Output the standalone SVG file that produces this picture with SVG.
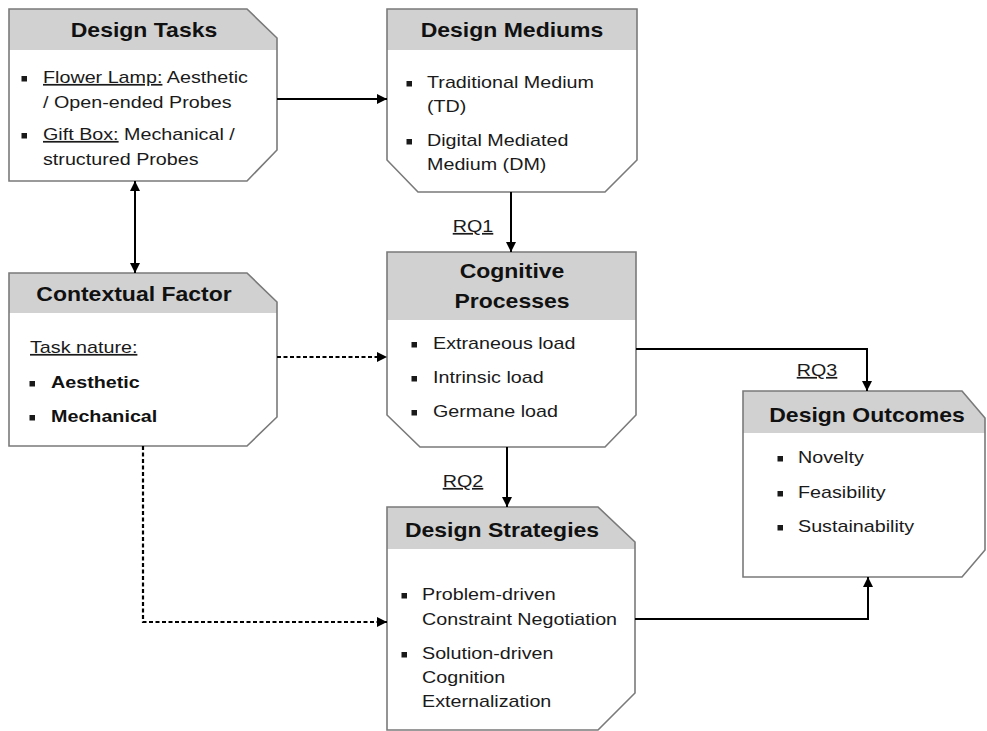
<svg xmlns="http://www.w3.org/2000/svg" width="987" height="731" viewBox="0 0 987 731">
<style>
.bg{fill:#fff}
.hdr{fill:#d1d1d1}
.edge{fill:none;stroke:#7a7a7a;stroke-width:1.6}
.title{font-family:"Liberation Sans",Arial,sans-serif;font-size:20px;font-weight:bold;fill:#111;text-anchor:middle}
.txt{font-family:"Liberation Sans",Arial,sans-serif;font-size:17px;fill:#1a1a1a}
.b{font-weight:bold;fill:#111}
.ctr{text-anchor:middle}
.bul{fill:#1a1a1a}
.conn{fill:none;stroke:#000;stroke-width:2}
.dash{stroke-dasharray:4 2.5;stroke-width:2.2}
</style>
<defs>
<marker id="ah" viewBox="0 0 10 10" refX="10" refY="5" markerWidth="10" markerHeight="10" markerUnits="userSpaceOnUse" orient="auto-start-reverse">
<path d="M0,0 L10,5 L0,10 z" fill="#000"/>
</marker>
</defs>
<rect class="bg" x="0" y="0" width="987" height="731"/>

<g id="design-tasks">
<polygon class="hdr" points="9,9 247,9 277,38 277,50 9,50"/>
<polygon class="edge" points="9,9 247,9 277,38 277,150 247,181 9,181"/>
<text class="title" transform="translate(144,37) scale(1.15,1)">Design Tasks</text>
<rect class="bul" x="21.5" y="76" width="5.5" height="5.5"/>
<text class="txt" transform="translate(43,83) scale(1.16,1)"><tspan text-decoration="underline">Flower Lamp:</tspan> Aesthetic</text>
<text class="txt" transform="translate(43,108) scale(1.16,1)">/ Open-ended Probes</text>
<rect class="bul" x="21.5" y="133" width="5.5" height="5.5"/>
<text class="txt" transform="translate(43,140) scale(1.16,1)"><tspan text-decoration="underline">Gift Box:</tspan> Mechanical /</text>
<text class="txt" transform="translate(43,165) scale(1.16,1)">structured Probes</text>
</g>

<g id="design-mediums">
<rect class="hdr" x="387" y="9" width="250" height="41"/>
<polygon class="edge" points="387,9 637,9 637,160 605,192 418,192 387,160"/>
<text class="title" transform="translate(512,37) scale(1.15,1)">Design Mediums</text>
<rect class="bul" x="406.5" y="81" width="5.5" height="5.5"/>
<text class="txt" transform="translate(427,88) scale(1.16,1)">Traditional Medium</text>
<text class="txt" transform="translate(427,112) scale(1.16,1)">(TD)</text>
<rect class="bul" x="406.5" y="139" width="5.5" height="5.5"/>
<text class="txt" transform="translate(427,146) scale(1.16,1)">Digital Mediated</text>
<text class="txt" transform="translate(427,170) scale(1.16,1)">Medium (DM)</text>
</g>

<g id="contextual-factor">
<polygon class="hdr" points="9,273 247,273 277,302 277,313 9,313"/>
<polygon class="edge" points="9,273 247,273 277,302 277,417 247,446 9,446"/>
<text class="title" transform="translate(134,301) scale(1.15,1)">Contextual Factor</text>
<text class="txt" transform="translate(30,353) scale(1.16,1)"><tspan text-decoration="underline">Task nature:</tspan></text>
<rect class="bul" x="29.5" y="381" width="5.5" height="5.5"/>
<text class="txt b" transform="translate(51,388) scale(1.16,1)">Aesthetic</text>
<rect class="bul" x="29.5" y="415" width="5.5" height="5.5"/>
<text class="txt b" transform="translate(51,422) scale(1.16,1)">Mechanical</text>
</g>

<g id="cognitive-processes">
<rect class="hdr" x="387" y="252" width="249" height="68"/>
<polygon class="edge" points="387,252 636,252 636,415 605,447 420,447 387,415"/>
<text class="title" transform="translate(512,278) scale(1.15,1)">Cognitive</text>
<text class="title" transform="translate(512,308) scale(1.15,1)">Processes</text>
<rect class="bul" x="411.5" y="342" width="5.5" height="5.5"/>
<text class="txt" transform="translate(433,349) scale(1.16,1)">Extraneous load</text>
<rect class="bul" x="411.5" y="376" width="5.5" height="5.5"/>
<text class="txt" transform="translate(433,383) scale(1.16,1)">Intrinsic load</text>
<rect class="bul" x="411.5" y="410" width="5.5" height="5.5"/>
<text class="txt" transform="translate(433,417) scale(1.16,1)">Germane load</text>
</g>

<g id="design-outcomes">
<polygon class="hdr" points="743,391 962,391 985,418 985,433 743,433"/>
<polygon class="edge" points="743,391 962,391 985,418 985,550 962,577 743,577"/>
<text class="title" transform="translate(867,422) scale(1.15,1)">Design Outcomes</text>
<rect class="bul" x="777.5" y="456" width="5.5" height="5.5"/>
<text class="txt" transform="translate(798,463) scale(1.16,1)">Novelty</text>
<rect class="bul" x="777.5" y="491" width="5.5" height="5.5"/>
<text class="txt" transform="translate(798,498) scale(1.16,1)">Feasibility</text>
<rect class="bul" x="777.5" y="525" width="5.5" height="5.5"/>
<text class="txt" transform="translate(798,532) scale(1.16,1)">Sustainability</text>
</g>

<g id="design-strategies">
<polygon class="hdr" points="387,507 598,507 635,542 635,549 387,549"/>
<polygon class="edge" points="387,507 598,507 635,542 635,693 598,730 387,730"/>
<text class="title" transform="translate(502,537) scale(1.15,1)">Design Strategies</text>
<rect class="bul" x="401.5" y="593" width="5.5" height="5.5"/>
<text class="txt" transform="translate(422,600) scale(1.16,1)">Problem-driven</text>
<text class="txt" transform="translate(422,625) scale(1.16,1)">Constraint Negotiation</text>
<rect class="bul" x="401.5" y="652" width="5.5" height="5.5"/>
<text class="txt" transform="translate(422,659) scale(1.16,1)">Solution-driven</text>
<text class="txt" transform="translate(422,683) scale(1.16,1)">Cognition</text>
<text class="txt" transform="translate(422,707) scale(1.16,1)">Externalization</text>
</g>

<g id="connectors">
<path class="conn" d="M277,99 L387,99" marker-end="url(#ah)"/>
<path class="conn" d="M135,181 L135,273" marker-start="url(#ah)" marker-end="url(#ah)"/>
<path class="conn" d="M511,192 L511,252" marker-end="url(#ah)"/>
<path class="conn dash" d="M277,357 L387,357" marker-end="url(#ah)"/>
<path class="conn dash" d="M143,446 L143,622 L387,622" marker-end="url(#ah)"/>
<path class="conn" d="M636,349 L867,349 L867,391" marker-end="url(#ah)"/>
<path class="conn" d="M507,447 L507,507" marker-end="url(#ah)"/>
<path class="conn" d="M635,619 L868,619 L868,577" marker-end="url(#ah)"/>
<text class="txt ctr" transform="translate(473,232) scale(1.16,1)"><tspan text-decoration="underline">RQ1</tspan></text>
<text class="txt ctr" transform="translate(463,487) scale(1.16,1)"><tspan text-decoration="underline">RQ2</tspan></text>
<text class="txt ctr" transform="translate(817,376) scale(1.16,1)"><tspan text-decoration="underline">RQ3</tspan></text>
</g>
</svg>
